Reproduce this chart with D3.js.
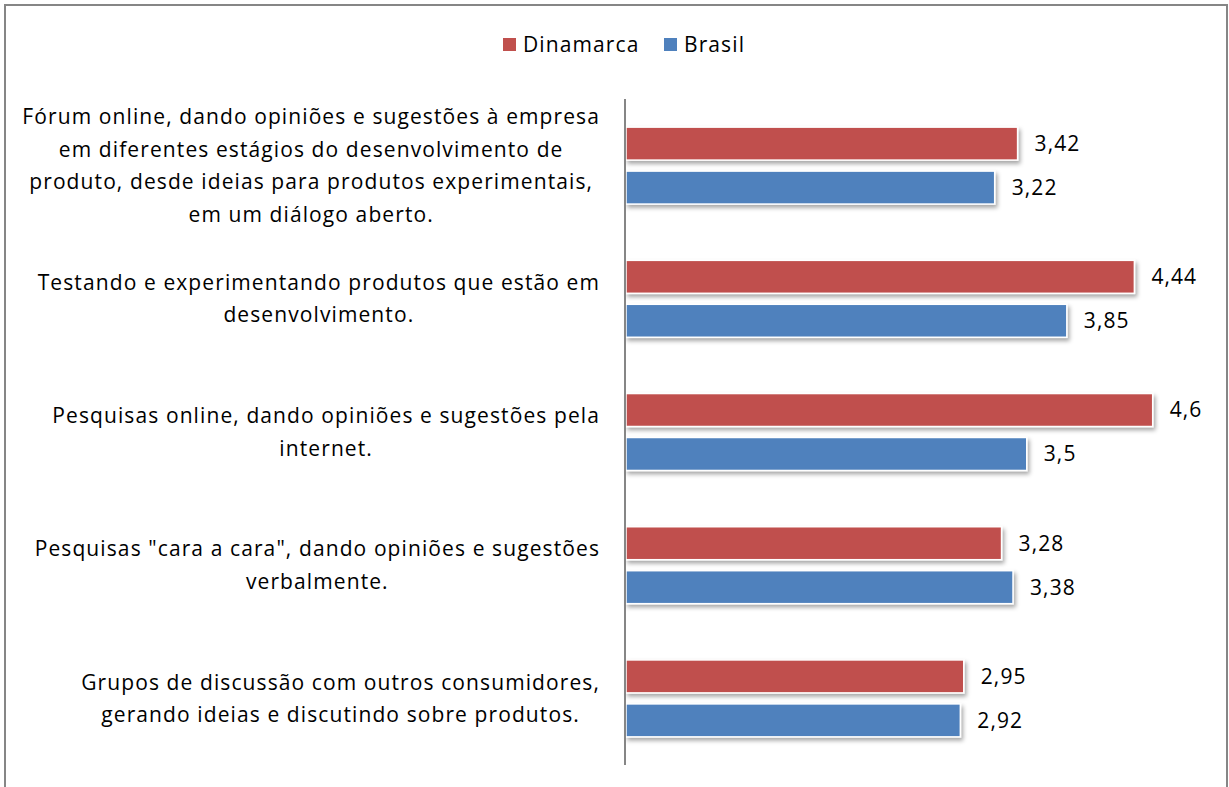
<!DOCTYPE html>
<html>
<head>
<meta charset="utf-8">
<script src="https://cdn.jsdelivr.net/npm/d3@7"></script>
<style>
body{margin:0;background:#fff;}
svg{display:block;font-family:"Open Sans",Lato,sans-serif;}
</style>
</head>
<body>
<svg width="1229" height="787"></svg>
<script>
// dados
var categorias = [
  ["Fórum online, dando opiniões e sugestões à empresa","em diferentes estágios do desenvolvimento de","produto, desde ideias para produtos experimentais,","em um diálogo aberto."],
  ["Testando e experimentando produtos que estão em","desenvolvimento."],
  ["Pesquisas online, dando opiniões e sugestões pela","internet."],
  ["Pesquisas \"cara a cara\", dando opiniões e sugestões","verbalmente."],
  ["Grupos de discussão com outros consumidores,","gerando ideias e discutindo sobre produtos."]
];
var series = ["Dinamarca","Brasil"];
var cores = ["#C0504D","#4F81BD"];
var dinamarca = [3.42, 4.44, 4.6, 3.28, 2.95];
var brasil = [3.22, 3.85, 3.5, 3.38, 2.92];

var svg = d3.select("svg");
var fs = 21, ls = 1.1;

// sombra das barras
var defs = svg.append("defs");
defs.append("filter").attr("id","sombra").attr("x","-5%").attr("y","-30%").attr("width","115%").attr("height","170%")
  .append("feDropShadow").attr("dx",2).attr("dy",3).attr("stdDeviation",2)
  .attr("flood-color","#000").attr("flood-opacity",0.35);

// moldura
svg.append("rect").attr("x",5).attr("y",5).attr("width",1222).attr("height",800)
  .attr("fill","none").attr("stroke","#868686").attr("stroke-width",2);

// escalas
var idx = d3.range(categorias.length);
var x = d3.scaleLinear().domain([0,5]).range([626,1198.5]);
var y = d3.scaleBand().domain(idx).range([99,765]);
var ys = d3.scaleBand().domain(series).range([0,y.bandwidth()]).paddingInner(0.25).paddingOuter(0.64);

var dados = [];
idx.forEach(function(i){
  dados.push({i:i,s:series[0],v:dinamarca[i],c:cores[0]});
  dados.push({i:i,s:series[1],v:brasil[i],c:cores[1]});
});

// barras
svg.append("g").selectAll("rect").data(dados).enter().append("rect")
  .attr("x",x(0))
  .attr("y",function(d){return y(d.i)+ys(d.s);})
  .attr("width",function(d){return x(d.v)-x(0);})
  .attr("height",ys.bandwidth())
  .attr("fill",function(d){return d.c;})
  .attr("stroke","#fff").attr("stroke-width",1.5)
  .attr("filter","url(#sombra)");

// rótulos de valor
svg.append("g").selectAll("text").data(dados).enter().append("text")
  .attr("x",function(d){return x(d.v)+17;})
  .attr("y",function(d){return y(d.i)+ys(d.s)+ys.bandwidth()/2;})
  .attr("dy","0.35em")
  .attr("font-size",fs).attr("letter-spacing",ls).attr("fill","#000")
  .text(function(d){return String(d.v).replace(".",",");});

// eixo vertical
svg.append("line").attr("x1",625).attr("x2",625).attr("y1",y.range()[0]).attr("y2",y.range()[1])
  .attr("stroke","#868686").attr("stroke-width",2);

// rótulos das categorias (centrados num bloco alinhado à direita)
var lh = 32.4;
idx.forEach(function(i){
  var linhas = categorias[i];
  var g = svg.append("g");
  var t = g.selectAll("text").data(linhas).enter().append("text")
    .attr("font-size",fs).attr("letter-spacing",ls).attr("fill","#000").attr("text-anchor","middle")
    .attr("y",function(d,k){return y(i)+y.bandwidth()/2+(k-(linhas.length-1)/2)*lh;})
    .attr("dy","0.35em")
    .text(function(d){return d;});
  var w = 0;
  t.each(function(){w=Math.max(w,this.getComputedTextLength());});
  t.attr("x",600-w/2);
});

// legenda
var leg = svg.append("g");
var lx = [503,664];
series.forEach(function(s,k){
  leg.append("rect").attr("x",lx[k]).attr("y",38).attr("width",13).attr("height",13).attr("fill",cores[k]);
  leg.append("text").attr("x",lx[k]+20).attr("y",45).attr("dy","0.35em")
    .attr("font-size",fs).attr("letter-spacing",ls).attr("fill","#000").text(s);
});
</script>
</body>
</html>
